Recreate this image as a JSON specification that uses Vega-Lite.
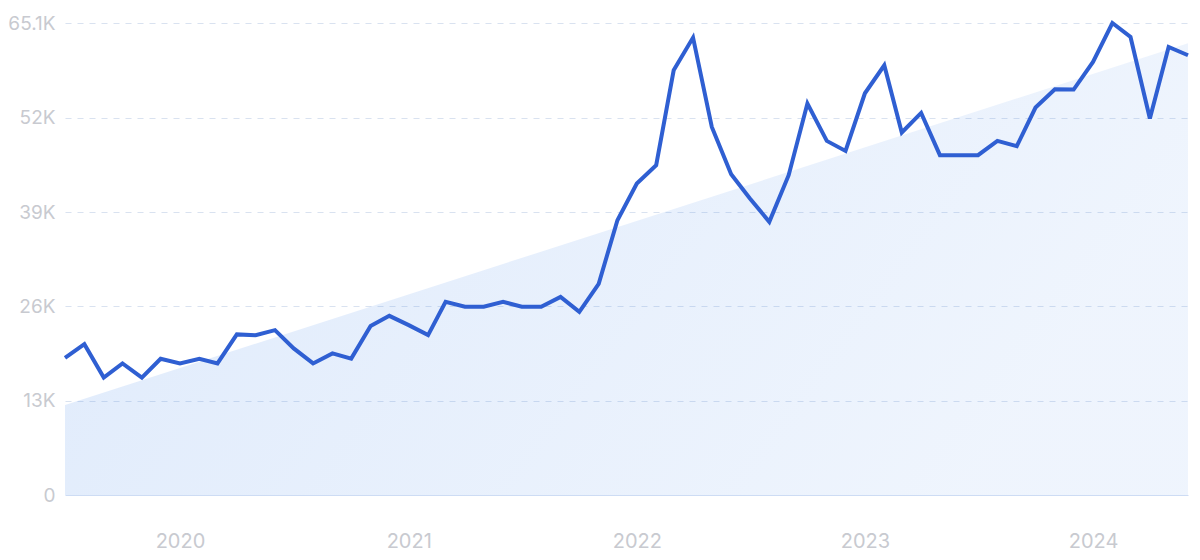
{
  "$schema": "https://vega.github.io/schema/vega-lite/v6.json",
  "autosize": "none",
  "width": 1123,
  "height": 472,
  "padding": {"left": 65, "top": 23, "right": 12, "bottom": 65},
  "background": "#ffffff",
  "config": {"view": {"stroke": null}, "font": "Inter"},
  "datasets": {
    "trend": [
      {"date": "2019/07/01", "value": 12400},
      {"date": "2024/06/01", "value": 62300}
    ],
    "series": [
      {"date": "2019/07/01", "value": 18900},
      {"date": "2019/08/01", "value": 20800},
      {"date": "2019/09/01", "value": 16200},
      {"date": "2019/10/01", "value": 18150},
      {"date": "2019/11/01", "value": 16200},
      {"date": "2019/12/01", "value": 18790},
      {"date": "2020/01/01", "value": 18150},
      {"date": "2020/02/01", "value": 18790},
      {"date": "2020/03/01", "value": 18150},
      {"date": "2020/04/01", "value": 22150},
      {"date": "2020/05/01", "value": 22050},
      {"date": "2020/06/01", "value": 22740},
      {"date": "2020/07/01", "value": 20220},
      {"date": "2020/08/01", "value": 18150},
      {"date": "2020/09/01", "value": 19530},
      {"date": "2020/10/01", "value": 18810},
      {"date": "2020/11/01", "value": 23300},
      {"date": "2020/12/01", "value": 24710},
      {"date": "2021/01/01", "value": 23430},
      {"date": "2021/02/01", "value": 22050},
      {"date": "2021/03/01", "value": 26640},
      {"date": "2021/04/01", "value": 25960},
      {"date": "2021/05/01", "value": 25960},
      {"date": "2021/06/01", "value": 26640},
      {"date": "2021/07/01", "value": 25960},
      {"date": "2021/08/01", "value": 25960},
      {"date": "2021/09/01", "value": 27330},
      {"date": "2021/10/01", "value": 25270},
      {"date": "2021/11/01", "value": 29130},
      {"date": "2021/12/01", "value": 37900},
      {"date": "2022/01/01", "value": 42960},
      {"date": "2022/02/01", "value": 45490},
      {"date": "2022/03/01", "value": 58580},
      {"date": "2022/04/01", "value": 63090},
      {"date": "2022/05/01", "value": 50770},
      {"date": "2022/06/01", "value": 44250},
      {"date": "2022/07/01", "value": 40900},
      {"date": "2022/08/01", "value": 37670},
      {"date": "2022/09/01", "value": 44110},
      {"date": "2022/10/01", "value": 53990},
      {"date": "2022/11/01", "value": 48840},
      {"date": "2022/12/01", "value": 47460},
      {"date": "2023/01/01", "value": 55410},
      {"date": "2023/02/01", "value": 59270},
      {"date": "2023/03/01", "value": 50000},
      {"date": "2023/04/01", "value": 52700},
      {"date": "2023/05/01", "value": 46870},
      {"date": "2023/06/01", "value": 46870},
      {"date": "2023/07/01", "value": 46870},
      {"date": "2023/08/01", "value": 48840},
      {"date": "2023/09/01", "value": 48110},
      {"date": "2023/10/01", "value": 53440},
      {"date": "2023/11/01", "value": 55960},
      {"date": "2023/12/01", "value": 55920},
      {"date": "2024/01/01", "value": 59730},
      {"date": "2024/02/01", "value": 65100},
      {"date": "2024/03/01", "value": 63170},
      {"date": "2024/04/01", "value": 51920},
      {"date": "2024/05/01", "value": 61790},
      {"date": "2024/06/01", "value": 60650}
    ]
  },
  "encoding": {
    "x": {
      "field": "date",
      "type": "temporal",
      "scale": {"nice": false},
      "axis": {
        "title": null,
        "domain": false,
        "ticks": false,
        "grid": false,
        "format": "%Y",
        "tickCount": {"interval": "year", "step": 1},
        "labelFont": "Inter",
        "labelFontSize": 20,
        "labelColor": "#c8cad0",
        "labelBaseline": "middle",
        "labelPadding": 46,
        "labelFlush": false
      }
    },
    "y": {
      "field": "value",
      "type": "quantitative",
      "scale": {"domain": [0, 65100], "nice": false},
      "axis": {
        "title": null,
        "domain": false,
        "ticks": false,
        "values": [0, 13000, 26000, 39000, 52000, 65100],
        "labelExpr": "datum.value == 0 ? '0' : format(datum.value / 1000, '.3~') + 'K'",
        "labelFont": "Inter",
        "labelFontSize": 19,
        "labelColor": "#c8cad0",
        "labelPadding": 10,
        "gridColor": {"condition": {"test": "datum.value == 0", "value": "#cddcf4"}, "value": "#d9e2f0"},
        "gridDash": {"condition": {"test": "datum.value == 0", "value": []}, "value": [6, 6]},
        "gridWidth": 1.2
      }
    }
  },
  "layer": [
    {
      "data": {"name": "trend"},
      "mark": {
        "type": "area",
        "color": {
          "gradient": "linear",
          "x1": 0, "y1": 0, "x2": 1, "y2": 0.3,
          "stops": [
            {"offset": 0, "color": "rgba(75, 140, 235, 0.18)"},
            {"offset": 1, "color": "rgba(75, 140, 235, 0.09)"}
          ]
        }
      }
    },
    {
      "data": {"name": "series"},
      "mark": {"type": "line", "color": "#2f5fd2", "strokeWidth": 4}
    }
  ]
}
